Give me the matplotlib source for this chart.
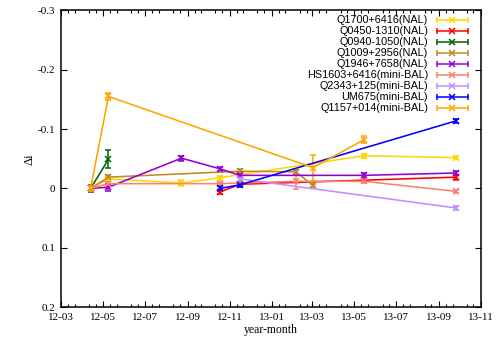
import datetime as dt
import matplotlib
matplotlib.use("Agg")
import matplotlib.pyplot as plt
import matplotlib.dates as mdates
from matplotlib.lines import Line2D
from matplotlib.ticker import FixedLocator, FuncFormatter

# observation epochs
ep = {
    "a": dt.date(2012, 4, 13), "b": dt.date(2012, 5, 9), "c": dt.date(2012, 8, 23),
    "d": dt.date(2012, 10, 18), "e": dt.date(2012, 11, 16), "f": dt.date(2013, 2, 5),
    "g": dt.date(2013, 3, 2), "h": dt.date(2013, 5, 15), "i": dt.date(2013, 9, 26),
}

names = ["Q1700+6416(NAL)", "Q0450-1310(NAL)", "Q0940-1050(NAL)", "Q1009+2956(NAL)",
         "Q1946+7658(NAL)", "HS1603+6416(mini-BAL)", "Q2343+125(mini-BAL)",
         "UM675(mini-BAL)", "Q1157+014(mini-BAL)"]
colors = ["#FFD700", "#FF0000", "#006400", "#C08A20", "#9400D3",
          "#FA8072", "#C090FF", "#0000FF", "#FFA500"]

q1700_t = ["a", "b", "c", "d", "h", "i"]
q1700_di = [0.0, -0.016, -0.009, -0.018, -0.055, -0.052]
q1700_err = [0.004, 0.003, 0.005, 0.003, 0.003, 0.003]

q0450_t = ["d", "e", "i"]
q0450_di = [0.006, -0.007, -0.019]
q0450_err = [0.004, 0.003, 0.004]

q0940_t = ["a", "b"]
q0940_di = [0.0, -0.049]
q0940_err = [0.006, 0.015]

q1009_t = ["a", "b", "e", "f", "g"]
q1009_di = [0.0, -0.019, -0.029, -0.028, -0.005]
q1009_err = [0.004, 0.004, 0.003, 0.003, 0.003]

q1946_t = ["a", "b", "c", "d", "e", "h", "i"]
q1946_di = [0.0, -0.002, -0.051, -0.033, -0.022, -0.022, -0.026]
q1946_err = [0.004, 0.006, 0.004, 0.003, 0.003, 0.004, 0.004]

hs1603_t = ["a", "b", "d", "f", "h", "i"]
hs1603_di = [0.0, -0.008, -0.008, -0.012, -0.012, 0.005]
hs1603_err = [0.004, 0.004, 0.003, 0.013, 0.003, 0.003]

q2343_t = ["e", "i"]
q2343_di = [-0.016, 0.033]
q2343_err = [0.008, 0.004]

um675_t = ["d", "e", "i"]
um675_di = [0.0, -0.006, -0.114]
um675_err = [0.004, 0.003, 0.003]

q1157_t = ["a", "b", "g", "h"]
q1157_di = [0.0, -0.155, -0.035, -0.082]
q1157_err = [0.004, 0.006, 0.022, 0.006]

series = [(q1700_t, q1700_di, q1700_err), (q0450_t, q0450_di, q0450_err),
          (q0940_t, q0940_di, q0940_err), (q1009_t, q1009_di, q1009_err),
          (q1946_t, q1946_di, q1946_err), (hs1603_t, hs1603_di, hs1603_err),
          (q2343_t, q2343_di, q2343_err), (um675_t, um675_di, um675_err),
          (q1157_t, q1157_di, q1157_err)]

plt.rcParams["font.family"] = ["Liberation Serif", "DejaVu Serif"]

fig = plt.figure(figsize=(4.99, 3.45), dpi=100)
ax = fig.add_axes([0.1222, 0.1101, 0.8417, 0.8595])

for (t, di, err), c in zip(series, colors):
    dates = [ep[k] for k in t]
    ax.errorbar(dates, di, yerr=err, color=c, lw=1.15, marker="x", ms=3.8, mew=1.1,
                capsize=1.9, elinewidth=1.1, capthick=1.1)

ax.set_xlim(dt.date(2012, 3, 1), dt.date(2013, 11, 1))
ax.set_ylim(0.2, -0.3)
ax.xaxis.set_major_locator(mdates.MonthLocator(bymonth=[1, 3, 5, 7, 9, 11]))
ax.xaxis.set_major_formatter(mdates.DateFormatter("%y-%m"))
ax.xaxis.set_minor_locator(mdates.DayLocator(bymonthday=[11, 21]))
ax.yaxis.set_major_locator(FixedLocator([-0.3, -0.2, -0.1, 0.0, 0.1, 0.2]))
ax.yaxis.set_major_formatter(FuncFormatter(lambda v, p: "%g" % round(v, 1)))

ax.tick_params(which="both", direction="in", top=True, right=True, labelsize=8, width=0.8)
ax.tick_params(which="major", length=4, pad=4)
ax.tick_params(which="minor", length=2)
for s in ax.spines.values():
    s.set_linewidth(1.1)

ax.set_xlabel("year-month", fontsize=8.5, labelpad=2)
ax.set_ylabel("Δi", fontsize=9, labelpad=2)

# key in the upper right: right-aligned names, sample line with x and end bars
text_x, s0, s1 = 0.874, 0.895, 0.969
row0, dy = 0.968, 0.0371
for k, (name, c) in enumerate(zip(names, colors)):
    y = row0 - k * dy
    ax.text(text_x, y, name, transform=ax.transAxes, ha="right", va="center",
            fontsize=7.8, family=["Liberation Sans", "DejaVu Sans"])
    ax.add_line(Line2D([s0, s1], [y, y], color=c, lw=1.1, transform=ax.transAxes,
                       marker="|", ms=4, mew=1.1, clip_on=False))
    ax.add_line(Line2D([(s0 + s1) / 2], [y], color=c, transform=ax.transAxes,
                       marker="x", ms=3.8, mew=1.1, clip_on=False))

fig.savefig("out.png", dpi=100)
